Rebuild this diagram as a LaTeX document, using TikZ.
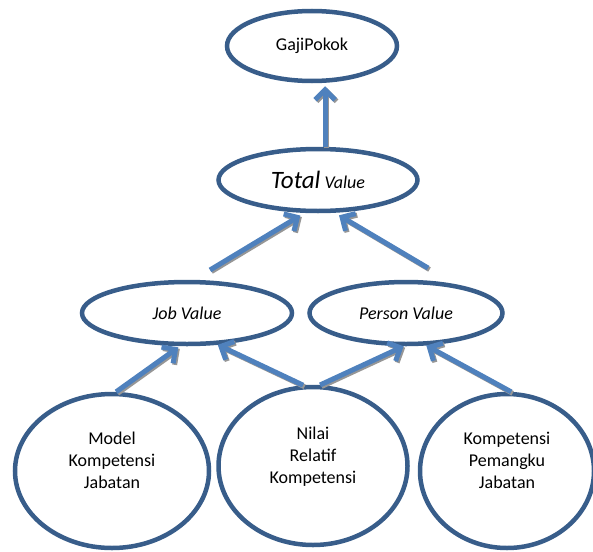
\documentclass[tikz,border=0pt]{standalone}
\usepackage{fontspec}
\setmainfont{Carlito}
\usepackage{tikz}
\usetikzlibrary{arrows.meta,shapes.geometric}
\definecolor{ovalblue}{RGB}{56,93,138}
\definecolor{arrowblue}{RGB}{79,129,189}
\definecolor{shadowgray}{RGB}{150,150,150}
\tikzset{
  valbox/.style={
    ellipse,
    draw=ovalblue,
    line width=4.5pt,
    fill=white,
    inner sep=0pt,
    align=center,
    font=\fontsize{18}{22}\selectfont
  },
  compbox/.style={
    valbox,
    text depth=22pt
  },
  flowarrow/.style={-{Straight Barb[length=10pt,width=20pt]},line width=5pt}
}
\begin{document}
\begin{tikzpicture}[x=1pt,y=-1pt]
\useasboundingbox (0,0) rectangle (593,551);
\node[valbox,minimum width=170pt,minimum height=70pt] (gaji) at (312,46) {GajiPokok};
\node[valbox,minimum width=199pt,minimum height=62pt] (total) at (318,180) {\itshape{\fontsize{25}{30}\selectfont Total} Value};
\node[valbox,minimum width=210pt,minimum height=62pt] (job) at (187,313) {\itshape Job Value};
\node[valbox,minimum width=193pt,minimum height=62pt] (person) at (406,313) {\itshape Person Value};
\node[compbox,minimum width=194pt,minimum height=154pt] (model) at (112,471) {Model\\Kompetensi\\Jabatan};
\node[compbox,minimum width=189pt,minimum height=158pt] (nilai) at (313,466) {Nilai\\Relatif\\Kompetensi};
\node[compbox,minimum width=174pt,minimum height=154pt] (kompetensi) at (507,471) {Kompetensi\\Pemangku\\Jabatan};
\coordinate (jobtail) at (210,270);
\coordinate (persontail) at (428,268);
% gray shadow first, then the blue arrow on top
\foreach \off/\col in {1.5pt/shadowgray,0pt/arrowblue}
  \foreach \src/\dst/\gap in {total.78/total.78 |- gaji.south/3pt,jobtail/total.248/5pt,persontail/total.297/5pt,
      model.87/job.258/2pt,nilai.97/job.-46/0pt,nilai.85/person.266/0pt,kompetensi.87/person.-58/0pt}
    \draw[flowarrow,draw=\col,shorten >=\gap,transform canvas={shift={(\off,-\off)}}] (\src) -- (\dst);
\end{tikzpicture}
\end{document}
